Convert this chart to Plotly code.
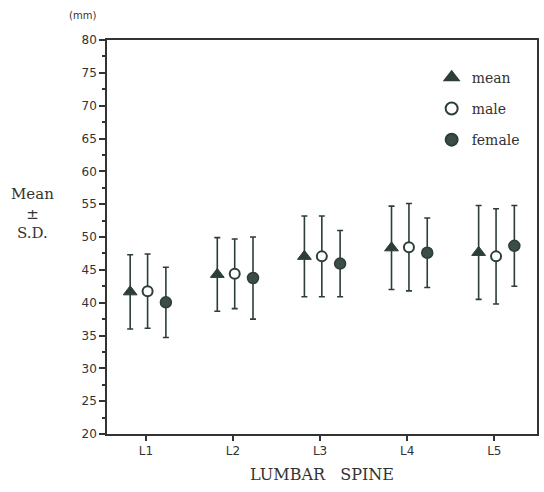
import plotly.graph_objects as go

categories = ["L1", "L2", "L3", "L4", "L5"]
mean_vals = [41.65, 44.3, 47.05, 48.35, 47.65]
mean_sd = [5.65, 5.6, 6.15, 6.35, 7.15]
male_vals = [41.75, 44.4, 47.05, 48.45, 47.05]
male_sd = [5.65, 5.3, 6.15, 6.65, 7.25]
female_vals = [40.05, 43.75, 45.95, 47.6, 48.65]
female_sd = [5.35, 6.25, 5.05, 5.3, 6.15]
y_ticks = [20, 25, 30, 35, 40, 45, 50, 55, 60, 65, 70, 75, 80]

DARK = "#2c3f36"
idx = list(range(1, len(categories) + 1))

fig = go.Figure()

def add(vals, sd, name, offset, symbol, fill, size, lw, group):
    fig.add_trace(go.Scatter(
        x=[i + offset for i in idx], y=vals, name=name, mode="markers",
        legendgroup=group,
        marker=dict(symbol=symbol, size=size, color=fill,
                    line=dict(color=DARK, width=lw)),
        error_y=dict(type="data", array=sd, visible=True, color=DARK,
                     thickness=1.6, width=3),
    ))

add(mean_vals, mean_sd, "mean", -0.18, "triangle-up", DARK, 12, 1, "a")
add(male_vals, male_sd, "male", 0.02, "circle", "white", 10, 2, "b")
add(female_vals, female_sd, "female", 0.23, "circle", "#3b4d45", 11, 1.5, "c")

fig.update_layout(
    width=544, height=492,
    margin=dict(l=107, r=5, t=40, b=58),
    paper_bgcolor="white", plot_bgcolor="white",
    font=dict(family="DejaVu Sans", color="#333"),
    showlegend=True,
    legend=dict(x=0.755, y=0.945, xanchor="left", yanchor="top",
                font=dict(family="DejaVu Serif", size=14, color="#333"),
                bgcolor="rgba(0,0,0,0)", tracegroupgap=10,
                itemsizing="constant"),
    xaxis=dict(range=[0.554, 5.49], tickvals=idx, ticktext=categories,
               ticks="outside", ticklen=5, tickwidth=1.5, tickcolor="#333",
               showgrid=False, zeroline=False, showline=True,
               linecolor="#333", linewidth=1.5, mirror=True,
               tickfont=dict(family="DejaVu Sans", size=12, color="#333"),
               title=dict(text="LUMBAR   SPINE", standoff=12,
                          font=dict(family="DejaVu Serif", size=16, color="#333"))),
    yaxis=dict(range=[20, 80], tickvals=y_ticks,
               ticks="outside", ticklen=6, tickwidth=1.5, tickcolor="#333",
               minor=dict(dtick=2.5, ticks="outside", ticklen=3, tickcolor="#333"),
               showgrid=False, zeroline=False, showline=True,
               linecolor="#333", linewidth=1.5, mirror=True,
               tickfont=dict(family="DejaVu Sans", size=12, color="#333")),
)

fig.add_annotation(text="Mean<br>±<br>S.D.", xref="paper", yref="paper",
                   x=-0.173, y=0.56, xanchor="center", yanchor="middle",
                   showarrow=False,
                   font=dict(family="DejaVu Serif", size=15, color="#333"))
fig.add_annotation(text="(mm)", xref="paper", yref="paper",
                   x=-0.058, y=1.0, yshift=25, xanchor="center", yanchor="middle",
                   showarrow=False,
                   font=dict(family="DejaVu Sans", size=10, color="#333"))

fig.write_html("out.html")
